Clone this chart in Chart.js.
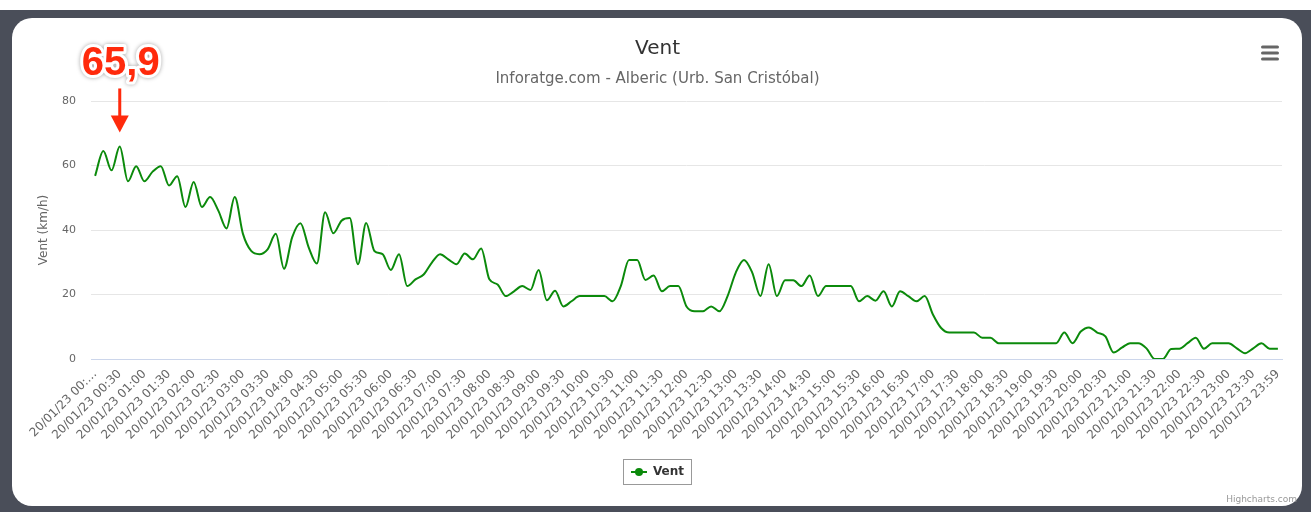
<!DOCTYPE html>
<html lang="ca">
<head>
<meta charset="UTF-8">
<title>Vent</title>
<script src="https://cdn.jsdelivr.net/npm/chart.js"></script>
<style>
  html, body { margin: 0; padding: 0; background: #fff; }
  #frame { position: absolute; left: 0; top: 10px; width: 1311px; height: 502px; background: #4a4e59; }
  #panel { position: absolute; left: 12px; top: 18px; width: 1290px; height: 488px; background: #fff; border-radius: 20px; }
  #windChart { position: absolute; left: 0; top: 0; }
</style>
</head>
<body>
<div id="frame"></div>
<div id="panel"></div>
<canvas id="windChart" width="1311" height="512"></canvas>
<script>
// wind speed (km/h), one reading every 10 minutes, last one at 23:59
const windSpeed = [
  56.8, 64.5, 58.5, 65.9, 55.1, 59.8, 55.1, 58.1, 59.8, 53.8, 56.7, 47.1,
  54.9, 47.1, 50.2, 46.0, 40.5, 50.2, 38.8, 33.5, 32.5, 34.0, 38.8, 28.0,
  37.8, 42.1, 34.6, 29.6, 45.5, 39.0, 42.9, 43.7, 29.4, 42.2, 33.5, 32.5,
  27.6, 32.5, 22.6, 24.7, 26.2, 29.9, 32.5, 30.9, 29.4, 32.7, 30.9, 34.3,
  24.7, 23.1, 19.5, 21.0, 22.6, 21.4, 27.6, 18.2, 21.2, 16.3, 17.9, 19.5,
  19.5, 19.5, 19.5, 17.9, 22.6, 30.7, 30.7, 24.5, 25.9, 21.0, 22.6, 22.6,
  16.3, 14.8, 14.8, 16.3, 14.8, 19.5, 26.8, 30.7, 26.8, 19.5, 29.4, 19.5,
  24.4, 24.4, 22.6, 25.9, 19.5, 22.6, 22.6, 22.6, 22.6, 17.9, 19.5, 18.1,
  21.0, 16.3, 21.0, 19.5, 17.9, 19.5, 13.8, 9.6, 8.2, 8.2, 8.2, 8.2,
  6.6, 6.6, 4.9, 4.9, 4.9, 4.9, 4.9, 4.9, 4.9, 4.9, 8.2, 4.9,
  8.5, 9.8, 8.2, 7.0, 2.0, 3.5, 4.9, 4.9, 3.3, 0.0, 0.0, 3.1,
  3.2, 4.9, 6.6, 3.2, 4.9, 4.9, 4.9, 3.3, 1.8, 3.3, 4.9, 3.2,
  3.2
];

// axis labels, one every third reading (30 min)
const timeLabels = [
  '20/01/23 00:…', '20/01/23 00:30', '20/01/23 01:00', '20/01/23 01:30',
  '20/01/23 02:00', '20/01/23 02:30', '20/01/23 03:00', '20/01/23 03:30',
  '20/01/23 04:00', '20/01/23 04:30', '20/01/23 05:00', '20/01/23 05:30',
  '20/01/23 06:00', '20/01/23 06:30', '20/01/23 07:00', '20/01/23 07:30',
  '20/01/23 08:00', '20/01/23 08:30', '20/01/23 09:00', '20/01/23 09:30',
  '20/01/23 10:00', '20/01/23 10:30', '20/01/23 11:00', '20/01/23 11:30',
  '20/01/23 12:00', '20/01/23 12:30', '20/01/23 13:00', '20/01/23 13:30',
  '20/01/23 14:00', '20/01/23 14:30', '20/01/23 15:00', '20/01/23 15:30',
  '20/01/23 16:00', '20/01/23 16:30', '20/01/23 17:00', '20/01/23 17:30',
  '20/01/23 18:00', '20/01/23 18:30', '20/01/23 19:00', '20/01/23 19:30',
  '20/01/23 20:00', '20/01/23 20:30', '20/01/23 21:00', '20/01/23 21:30',
  '20/01/23 22:00', '20/01/23 22:30', '20/01/23 23:00', '20/01/23 23:30',
  '20/01/23 23:59'
];
const labelStep = 3;

const yTicks = [0, 20, 40, 60, 80];

const lineColor = '#0b8a0b';
const FONT = "'DejaVu Sans', sans-serif";
Chart.defaults.font.family = FONT;

// little "line + dot" marker for the legend
const marker = document.createElement('canvas');
marker.width = 16; marker.height = 10;
(function () {
  const m = marker.getContext('2d');
  m.strokeStyle = lineColor; m.lineWidth = 2;
  m.beginPath(); m.moveTo(0, 5); m.lineTo(16, 5); m.stroke();
  m.fillStyle = lineColor;
  m.beginPath(); m.arc(8, 5, 4, 0, Math.PI * 2); m.fill();
})();

const extras = {
  id: 'extras',
  afterDraw(chart) {
    const ctx = chart.ctx;
    ctx.save();

    // border round the legend
    const hb = chart.legend.legendHitBoxes[0];
    if (hb) {
      ctx.strokeStyle = '#999';
      ctx.lineWidth = 1;
      ctx.strokeRect(Math.round(hb.left) - 7.5, Math.round(hb.top) - 6.5, Math.round(hb.width) + 15, hb.height + 13);
    }

    // menu icon
    ctx.strokeStyle = '#666';
    ctx.lineWidth = 3;
    ctx.lineCap = 'round';
    [47, 53, 59].forEach(y => {
      ctx.beginPath(); ctx.moveTo(1262.5, y); ctx.lineTo(1277.5, y); ctx.stroke();
    });

    // credits
    ctx.fillStyle = '#999';
    ctx.font = '9px ' + FONT;
    ctx.textAlign = 'right';
    ctx.textBaseline = 'alphabetic';
    ctx.fillText('Highcharts.com', 1297, 502);

    // annotation on the maximum
    const max = Math.max(...windSpeed);
    const idx = windSpeed.indexOf(max);
    const px = chart.scales.x.getPixelForValue(idx);
    const py = chart.scales.y.getPixelForValue(max);
    const red = '#ff2a0c';
    ctx.fillStyle = red;
    ctx.fillRect(px - 1.5, py - 58, 3, 30);
    ctx.beginPath();
    ctx.moveTo(px - 9, py - 31);
    ctx.lineTo(px + 9, py - 31);
    ctx.lineTo(px, py - 14);
    ctx.closePath();
    ctx.fill();

    ctx.font = "bold 40px 'Liberation Sans', Arial, sans-serif";
    ctx.textAlign = 'center';
    ctx.lineJoin = 'round';
    ctx.shadowColor = 'rgba(0,0,0,0.35)';
    ctx.shadowBlur = 4;
    ctx.strokeStyle = '#fff';
    ctx.lineWidth = 6;
    const txt = String(max).replace('.', ',');
    ctx.strokeText(txt, px + 1, py - 71);
    ctx.shadowColor = 'transparent';
    ctx.fillText(txt, px + 1, py - 71);
    ctx.restore();
  }
};

new Chart(document.getElementById('windChart'), {
  type: 'line',
  data: {
    datasets: [{
      label: 'Vent',
      data: windSpeed.map((v, i) => ({ x: i, y: v })),
      borderColor: lineColor,
      backgroundColor: lineColor,
      borderWidth: 2,
      pointRadius: 0,
      cubicInterpolationMode: 'monotone',
      fill: false
    }]
  },
  options: {
    responsive: false,
    animation: false,
    layout: { padding: { left: 33, right: 29, top: 0, bottom: 24 } },
    plugins: {
      title: {
        display: true,
        text: 'Vent',
        color: '#333',
        font: { size: 20, weight: 'normal' },
        padding: { top: 37, bottom: 0 }
      },
      subtitle: {
        display: true,
        text: 'Inforatge.com - Alberic (Urb. San Cristóbal)',
        color: '#666',
        font: { size: 15 },
        padding: { top: 9, bottom: 13 }
      },
      legend: {
        position: 'bottom',
        labels: {
          usePointStyle: true,
          pointStyle: marker,
          pointStyleWidth: 16,
          padding: 10,
          color: '#333',
          font: { size: 12, weight: 'bold' }
        }
      },
      tooltip: { enabled: false }
    },
    scales: {
      x: {
        type: 'linear',
        min: -0.5,
        max: windSpeed.length - 0.5,
        grid: { display: false, drawTicks: false },
        border: { color: '#ccd6eb' },
        afterBuildTicks: s => { s.ticks = timeLabels.map((_, k) => ({ value: k * labelStep })); },
        afterFit: s => { s.height = 97; },
        ticks: {
          autoSkip: false,
          minRotation: 45,
          maxRotation: 45,
          padding: 8,
          color: '#666',
          font: { size: 12 },
          callback: (v, i) => timeLabels[i]
        }
      },
      y: {
        min: 0,
        max: 80,
        afterBuildTicks: s => { s.ticks = yTicks.map(v => ({ value: v })); },
        afterFit: s => { s.width = 58; },
        grid: { color: '#e6e6e6', drawTicks: false },
        border: { display: false },
        ticks: { padding: 15, color: '#666', font: { size: 11 } },
        title: { display: true, text: 'Vent (km/h)', color: '#666', font: { size: 12 } }
      }
    }
  },
  plugins: [extras]
});
</script>
</body>
</html>
